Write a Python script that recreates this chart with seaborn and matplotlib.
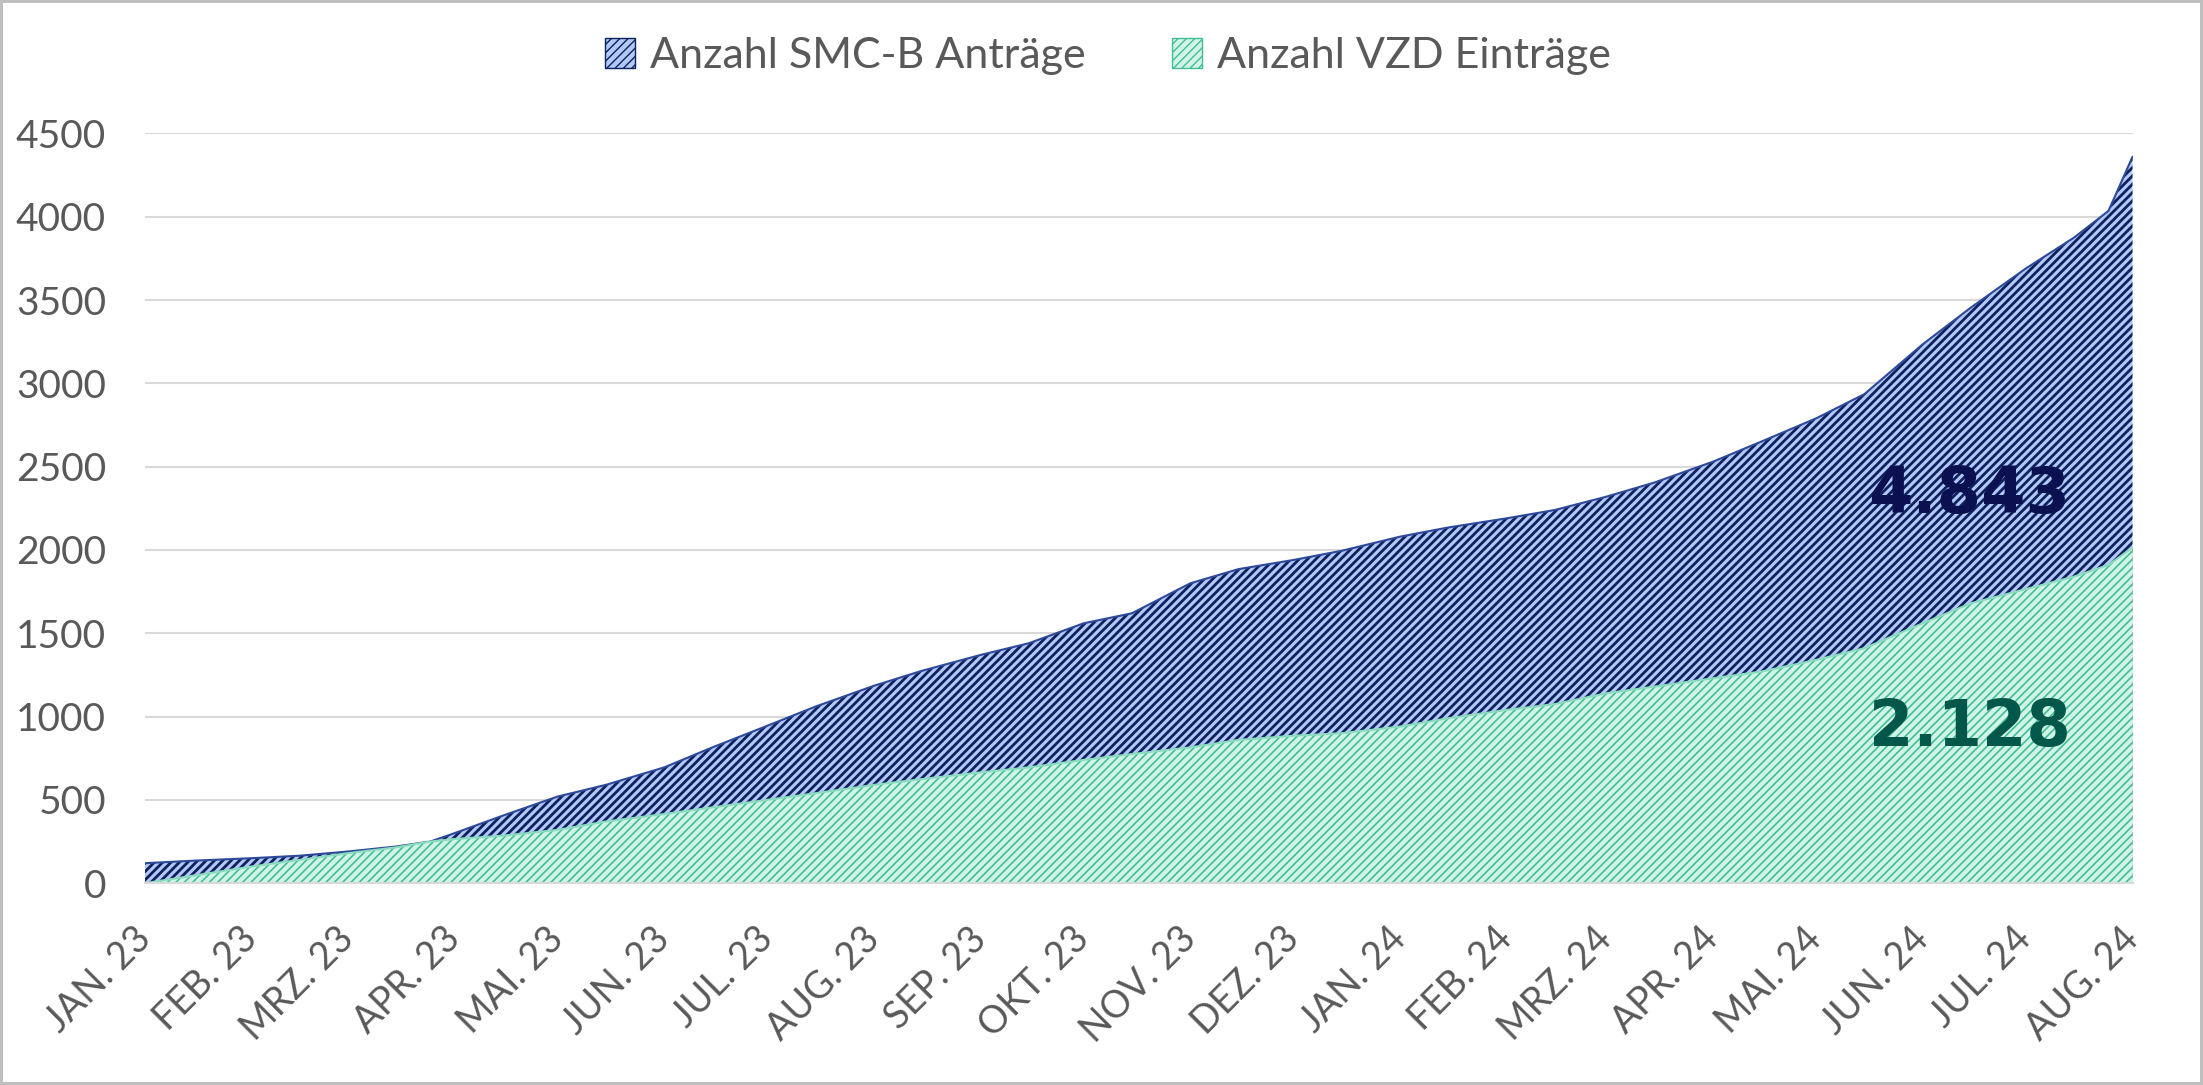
import seaborn as sns
import matplotlib.pyplot as plt
import pandas as pd
from matplotlib.patches import Patch

# values (roughly twice a month)
dates = ["2023-01-01", "2023-01-15", "2023-02-01", "2023-02-15", "2023-03-01", "2023-03-15",
         "2023-03-25", "2023-04-01", "2023-04-15", "2023-05-01", "2023-05-15", "2023-06-01",
         "2023-06-15", "2023-07-01", "2023-07-15", "2023-08-01", "2023-08-15", "2023-09-01",
         "2023-09-15", "2023-10-01", "2023-10-15", "2023-11-01", "2023-11-15", "2023-12-01",
         "2023-12-15", "2024-01-01", "2024-01-15", "2024-02-01", "2024-02-15", "2024-03-01",
         "2024-03-15", "2024-04-01", "2024-04-15", "2024-05-01", "2024-05-15", "2024-06-01",
         "2024-06-15", "2024-07-01", "2024-07-15", "2024-07-25", "2024-08-01"]
smcb = [120, 135, 150, 165, 190, 220, 250, 300, 405, 520, 590, 695, 815, 945, 1060, 1185,
        1275, 1370, 1440, 1560, 1620, 1800, 1885, 1940, 1995, 2080, 2135, 2190, 2240, 2320,
        2405, 2530, 2650, 2790, 2935, 3235, 3455, 3690, 3875, 4035, 4360]
vzd = [0, 45, 100, 140, 180, 215, 250, 265, 285, 320, 370, 415, 455, 500, 540, 590,
       625, 665, 695, 740, 775, 815, 860, 885, 900, 940, 990, 1040, 1075, 1140,
       1180, 1230, 1270, 1340, 1410, 1560, 1680, 1765, 1840, 1910, 2015]

month_labels = ["JAN. 23", "FEB. 23", "MRZ. 23", "APR. 23", "MAI. 23", "JUN. 23", "JUL. 23",
                "AUG. 23", "SEP. 23", "OKT. 23", "NOV. 23", "DEZ. 23", "JAN. 24", "FEB. 24",
                "MRZ. 24", "APR. 24", "MAI. 24", "JUN. 24", "JUL. 24", "AUG. 24"]
y_ticks = [0, 500, 1000, 1500, 2000, 2500, 3000, 3500, 4000, 4500]

label_smcb = "Anzahl SMC-B Anträge"
label_vzd = "Anzahl VZD Einträge"
total_smcb = "4.843"
total_vzd = "2.128"

df = pd.DataFrame({"datum": pd.to_datetime(dates), "smcb": smcb, "vzd": vzd})
month_ticks = pd.date_range("2023-01-01", periods=len(month_labels), freq="MS")

sns.set_theme(style="white")
plt.rcParams["font.family"] = ["Lato", "DejaVu Sans"]

fig, ax = plt.subplots(figsize=(22.03, 10.85), dpi=100)
fig.subplots_adjust(left=0.0658, right=0.968, bottom=0.186, top=0.877)
fig.patch.set_edgecolor("#bfbfbf")
fig.patch.set_linewidth(3)

blue_face, blue_hatch = "#b2c8f5", "#0e2060"
green_face, green_hatch = "#d2f3e7", "#40bf95"

with plt.rc_context({"hatch.linewidth": 2.0}):
    ax.fill_between(df["datum"], 0, df["smcb"], facecolor=blue_face, edgecolor=blue_hatch,
                    hatch="////", linewidth=0, zorder=2)
sns.lineplot(data=df, x="datum", y="smcb", color="#2d4a9a", linewidth=1.5, ax=ax, zorder=3)
with plt.rc_context({"hatch.linewidth": 1.2}):
    ax.fill_between(df["datum"], 0, df["vzd"], facecolor=green_face, edgecolor=green_hatch,
                    hatch="////", linewidth=0, zorder=4)
sns.lineplot(data=df, x="datum", y="vzd", color="#8adcbf", linewidth=1.5, ax=ax, zorder=5)

ax.text(pd.Timestamp("2024-07-14"), 2330, total_smcb, ha="right", va="center", fontsize=46,
        fontweight="bold", color="#0b1150", family="DejaVu Sans", zorder=6)
ax.text(pd.Timestamp("2024-07-14"), 930, total_vzd, ha="right", va="center", fontsize=46,
        fontweight="bold", color="#00574a", family="DejaVu Sans", zorder=6)

ax.set_xlim(month_ticks[0], month_ticks[-1])
ax.set_ylim(0, 4500)
ax.set_yticks(y_ticks)
ax.set_yticklabels([str(v) for v in y_ticks])
ax.set_xticks(month_ticks)
ax.set_xticklabels(month_labels, rotation=45, ha="right", va="center", rotation_mode="anchor")
ax.set_xlabel("")
ax.set_ylabel("")
ax.tick_params(axis="both", length=0, labelsize=28, labelcolor="#595959")
ax.tick_params(axis="x", labelsize=27, pad=36)
ax.tick_params(axis="y", pad=28)

ax.yaxis.grid(True, color="#d9d9d9", linewidth=1.5)
ax.set_axisbelow(True)
for side in ["left", "right", "top"]:
    ax.spines[side].set_visible(False)
ax.spines["bottom"].set_color("#d9d9d9")
ax.spines["bottom"].set_linewidth(1.5)
ax.spines["bottom"].set_zorder(7)

handles = [Patch(facecolor=blue_face, edgecolor=blue_hatch, hatch="////", label=label_smcb),
           Patch(facecolor=green_face, edgecolor=green_hatch, hatch="////", label=label_vzd)]
fig.legend(handles=handles, loc="center", bbox_to_anchor=(0.503, 0.948), ncol=2,
           frameon=False, fontsize=31, labelcolor="#595959", handlelength=0.7,
           handleheight=0.7, handletextpad=0.35, columnspacing=2.0)

fig.savefig("out.png", dpi=100, edgecolor=fig.get_edgecolor())
